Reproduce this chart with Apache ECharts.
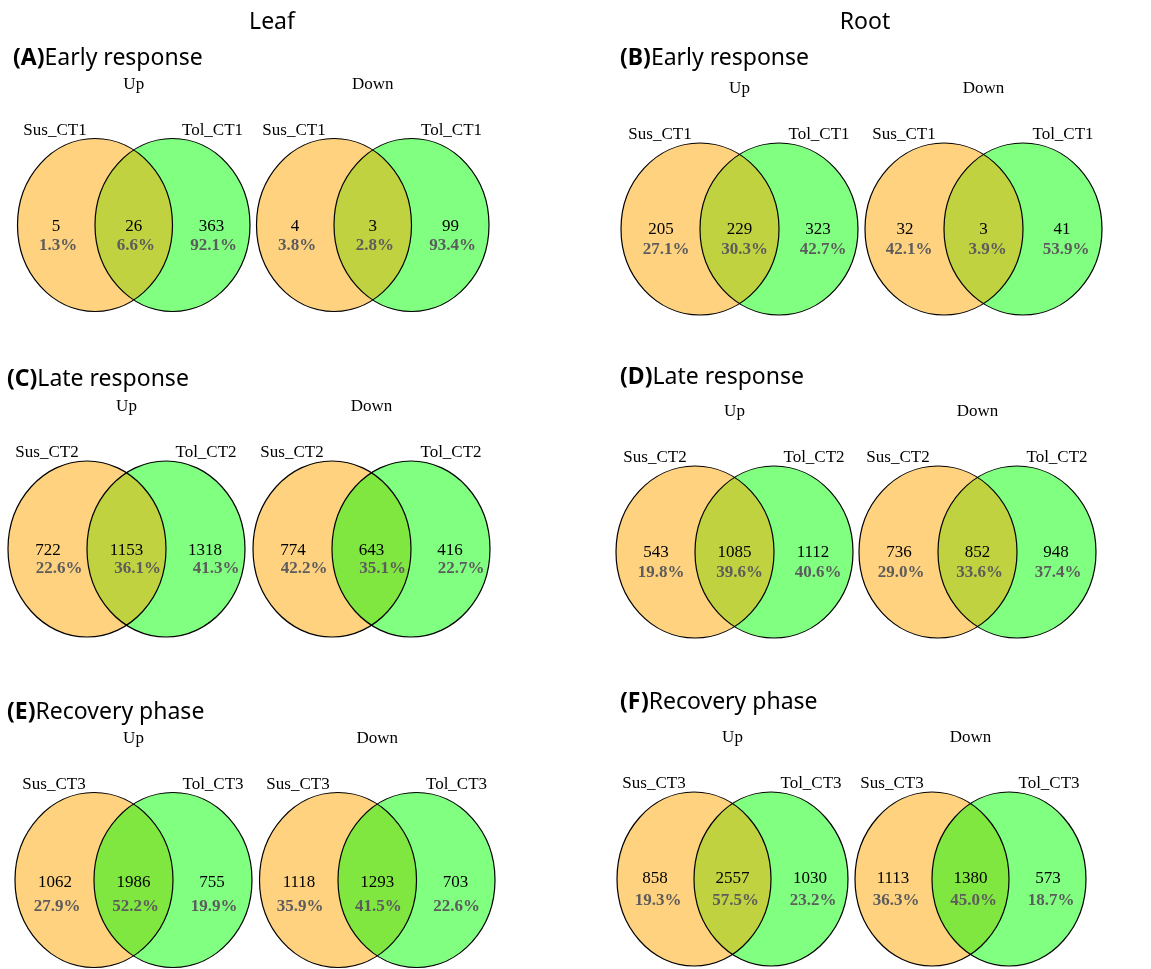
<!DOCTYPE html>
<html>
<head>
<meta charset="utf-8">
<script src="https://cdn.jsdelivr.net/npm/echarts@6/dist/echarts.min.js"></script>
<style>
html,body{margin:0;padding:0;background:#fff}
#main{width:1151px;height:969px}
</style>
</head>
<body>
<div id="main"></div>
<script>
// ---- data ----
var tissues = ['Leaf', 'Root'];
var panelLetters = ['A', 'B', 'C', 'D', 'E', 'F'];
var panelNames = ['Early response', 'Early response', 'Late response', 'Late response', 'Recovery phase', 'Recovery phase'];
var contrasts = ['CT1', 'CT1', 'CT2', 'CT2', 'CT3', 'CT3'];
var directions = ['Up', 'Down'];
var setPrefix = ['Sus_', 'Tol_'];
// counts: [Sus only, both, Tol only]
var upCounts = [[5, 26, 363], [205, 229, 323], [722, 1153, 1318], [543, 1085, 1112], [1062, 1986, 755], [858, 2557, 1030]];
var upPercents = [[1.3, 6.6, 92.1], [27.1, 30.3, 42.7], [22.6, 36.1, 41.3], [19.8, 39.6, 40.6], [27.9, 52.2, 19.9], [19.3, 57.5, 23.2]];
var downCounts = [[4, 3, 99], [32, 3, 41], [774, 643, 416], [736, 852, 948], [1118, 1293, 703], [1113, 1380, 573]];
var downPercents = [[3.8, 2.8, 93.4], [42.1, 3.9, 53.9], [42.2, 35.1, 22.7], [29.0, 33.6, 37.4], [35.9, 41.5, 22.6], [36.3, 45.0, 18.7]];

// ---- layout (one row per venn: A up, A down, B up, ...) ----
// [left circle cx, cy, rx, ry, percent x shift, percent y offset]
var vennLayout = [
  [95, 225, 77.5, 86.5, 2, 21], [334, 225, 77.5, 86.5, 2, 21],
  [700, 229, 79, 86, 5, 21], [944, 229, 79, 86, 4, 21],
  [87, 549, 79, 88, 11, 20], [332, 549, 79, 88, 11, 20],
  [695, 552, 79, 86, 5, 21], [938, 552, 79, 86, 2, 21],
  [94, 880, 79, 87.5, 2, 27], [338, 880, 78.5, 87.5, 1, 27],
  [694, 879, 77, 87, 3, 22], [932, 879, 77, 87, 3, 22]
];
var numDy = [2, 2, 1, 1, 2, 2, 1, 1, 3, 3, 0, 0];
var overlapTone = [0, 0, 0, 0, 0, 1, 0, 0, 1, 1, 0, 1];
// panel title anchors [left, middle y]
var panelTitlePos = [[13, 58], [620, 58], [7, 379], [620, 377], [7, 712], [620, 702]];
var tissueTitlePos = [[272, 22], [865, 22]];

var colSus = '#FFD280';
var colTol = '#80FF80';
var colBoth = ['#C0D240', '#80E640'];
var serif = '"Liberation Serif", "Times New Roman", serif';
var sans = '"Noto Sans", "Open Sans", sans-serif';

var rows = [];
for (var p = 0; p < 6; p++) {
  rows.push([p * 2].concat(upCounts[p], upPercents[p]));
  rows.push([p * 2 + 1].concat(downCounts[p], downPercents[p]));
}

function txt(x, y, s, font, fill) {
  return {
    type: 'text', x: x, y: y, silent: true,
    style: { text: s, font: font, fill: fill, align: 'center', verticalAlign: 'middle' }
  };
}

function renderVenn(params, api) {
  var i = api.value(0);
  var L = vennLayout[i];
  var cx = L[0], cy = L[1], rx = L[2], ry = L[3];
  var cx2 = cx + rx;
  var xm = cx + rx / 2;
  var h = ry * Math.sqrt(0.75);
  var panel = Math.floor(i / 2);
  var lens = 'M' + xm + ' ' + (cy - h) + ' A' + rx + ' ' + ry + ' 0 0 1 ' + xm + ' ' + (cy + h) +
    ' A' + rx + ' ' + ry + ' 0 0 1 ' + xm + ' ' + (cy - h) + ' Z';
  var kids = [
    { type: 'ellipse', shape: { cx: cx, cy: cy, rx: rx, ry: ry }, style: { fill: colSus } },
    { type: 'ellipse', shape: { cx: cx2, cy: cy, rx: rx, ry: ry }, style: { fill: colTol } },
    { type: 'path', shape: { pathData: lens }, style: { fill: colBoth[overlapTone[i]] } },
    { type: 'ellipse', shape: { cx: cx, cy: cy, rx: rx, ry: ry }, style: { fill: 'none', stroke: '#000', lineWidth: 1.2 } },
    { type: 'ellipse', shape: { cx: cx2, cy: cy, rx: rx, ry: ry }, style: { fill: 'none', stroke: '#000', lineWidth: 1.2 } },
    txt(xm, cy - ry - 54, directions[i % 2], '17px ' + serif, '#000'),
    txt(cx - 40, cy - ry - 8, setPrefix[0] + contrasts[panel], '17px ' + serif, '#000'),
    txt(cx2 + 40, cy - ry - 8, setPrefix[1] + contrasts[panel], '17px ' + serif, '#000')
  ];
  var xs = [cx - 39, xm, cx2 + 39];
  for (var k = 0; k < 3; k++) {
    kids.push(txt(xs[k], cy + numDy[i], String(api.value(1 + k)), '17px ' + serif, '#000'));
    kids.push(txt(xs[k] + L[4], cy + L[5], api.value(4 + k).toFixed(1) + '%', 'bold 17px ' + serif, '#5c5c5c'));
  }
  return { type: 'group', children: kids };
}

var graphics = [];
tissues.forEach(function (t, j) {
  graphics.push({
    type: 'text', x: tissueTitlePos[j][0], y: tissueTitlePos[j][1],
    style: { text: t, font: '23px ' + sans, fill: '#000', align: 'center', verticalAlign: 'middle' }
  });
});
panelLetters.forEach(function (l, p) {
  graphics.push({
    type: 'text', x: panelTitlePos[p][0], y: panelTitlePos[p][1],
    style: {
      text: '{b|(' + l + ')}' + panelNames[p], font: '23px ' + sans, fill: '#000',
      align: 'left', verticalAlign: 'middle',
      rich: { b: { fontWeight: 'bold', fontSize: 23, fontFamily: sans } }
    }
  });
});

var chart = echarts.init(document.getElementById('main'));
chart.setOption({
  backgroundColor: '#fff',
  animation: false,
  graphic: graphics,
  series: [{
    type: 'custom',
    coordinateSystem: 'none',
    renderItem: renderVenn,
    data: rows
  }]
});
</script>
</body>
</html>
